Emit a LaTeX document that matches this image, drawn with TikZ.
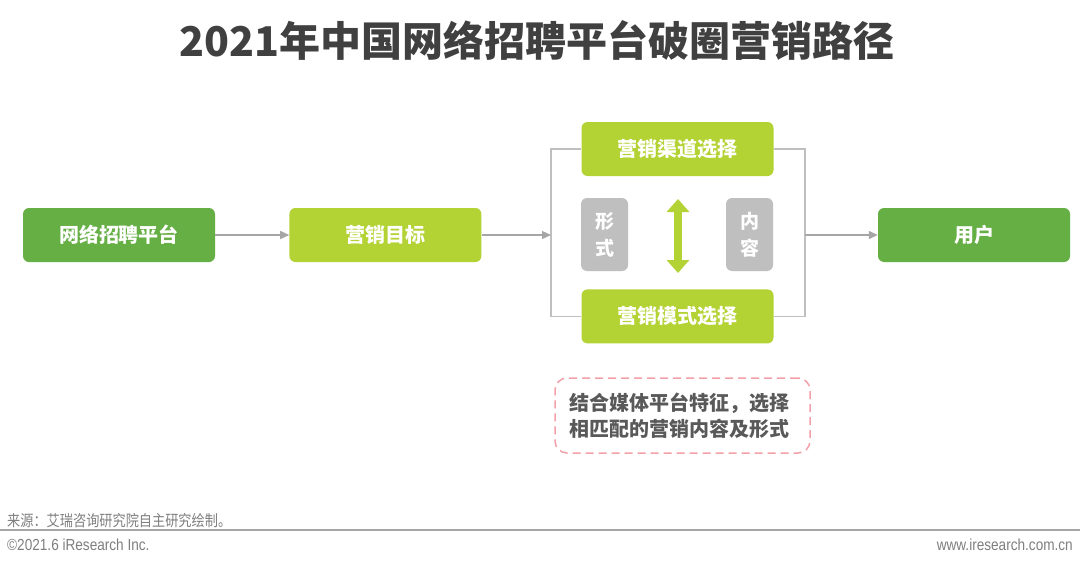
\documentclass[tikz,border=0pt]{standalone}
\usepackage{fontspec}
\setmainfont{Noto Sans CJK SC}
\newfontfamily\footfont{Liberation Sans}[FakeStretch=0.85]
\newfontfamily\footcjk{Noto Sans CJK SC}[FakeStretch=0.85]
\usepackage{tikz}
\usetikzlibrary{positioning, arrows.meta, calc}
\definecolor{iregreen}{RGB}{101,175,69}
\definecolor{irelime}{RGB}{179,211,52}
\definecolor{iregray}{RGB}{191,191,191}
\definecolor{irearrow}{RGB}{166,166,166}
\definecolor{iretitle}{RGB}{64,64,64}
\definecolor{iretext}{RGB}{89,89,89}
\definecolor{irefoot}{RGB}{127,127,127}
\definecolor{irepink}{RGB}{243,160,168}

\begin{document}
\begin{tikzpicture}[
  x=1pt, y=-1pt,
  font=\fontsize{20}{26}\selectfont\bfseries,
  node distance=74pt,
  block/.style={
    rounded corners=6pt, align=center, text=white,
    minimum width=192pt, minimum height=54pt, inner sep=0pt
  },
  endbox/.style={block, fill=iregreen},
  stagebox/.style={block, fill=irelime},
  sidebox/.style={block, fill=iregray, minimum width=47pt, minimum height=73pt,
    font=\fontsize{19}{27}\selectfont\bfseries},
  flowline/.style={draw=irearrow, line width=1.3pt, -{Triangle[width=8pt,length=9pt]}},
  bracket/.style={draw=iregray, line width=1.8pt},
  swaparrow/.style={draw=irelime, line width=7.5pt,
    {Triangle[width=22pt,length=13pt]}-{Triangle[width=22pt,length=13pt]}},
  hintbox/.style={draw=irepink, dash pattern=on 8pt off 5pt, line width=1.5pt,
    rounded corners=12pt, minimum width=255pt, minimum height=75pt,
    align=left, text=iretext, inner sep=0pt},
  foot/.style={text=irefoot, inner sep=0pt}
]
\fill[white] (0,0) rectangle (1080,565);
\useasboundingbox (0,0) rectangle (1080,565);

\node[font=\fontsize{41}{48}\selectfont\bfseries, text=iretitle] (title) at (537,40)
  {2021年中国网络招聘平台破圈营销路径};

\node[endbox] (plat) at (119,235) {网络招聘平台};
\node[stagebox, right=of plat] (goal) {营销目标};
\node[stagebox] (chan) at (677.5,149) {营销渠道选择};
\node[stagebox, below=113pt of chan] (mode) {营销模式选择};
\node[sidebox] (form) at (604.5,234.5) {形\\式};
\node[sidebox] (cont) at (749.5,234.5) {内\\容};
\node[endbox] (user) at (974,235) {用户};

\node[hintbox] (hint) at (682.5,415.5) {\hspace*{-6pt}结合媒体平台特征，选择\\\hspace*{-6pt}相匹配的营销内容及形式};

\coordinate (inL) at (551,235);
\coordinate (outR) at (805,235);
\coordinate (swaptop) at (678,199);
\coordinate (swapbot) at (678,273);

\draw[bracket] (chan.west) -| (inL) |- (mode.west);
\draw[bracket] (chan.east) -| (outR) |- (mode.east);
\draw[flowline] (plat) -- (goal);
\draw[flowline] (goal) -- (inL);
\draw[flowline] (outR) -- (user);
\draw[swaparrow] (swaptop) -- (swapbot);

% footer
\node[foot, anchor=west, font=\footcjk\mdseries\fontsize{15.5}{15.5}\selectfont] (src) at (7,521)
  {来源：艾瑞咨询研究院自主研究绘制。};
\draw[irearrow, line width=2pt] (0,530) -- (1080,530);
\node[foot, anchor=west, font=\footfont\mdseries\fontsize{16}{16}\selectfont] (copy) at (7,545)
  {©2021.6 iResearch Inc.};
\node[foot, anchor=east, font=\footfont\mdseries\fontsize{16}{16}\selectfont] (web) at (1073,545)
  {www.iresearch.com.cn};
\end{tikzpicture}
\end{document}
